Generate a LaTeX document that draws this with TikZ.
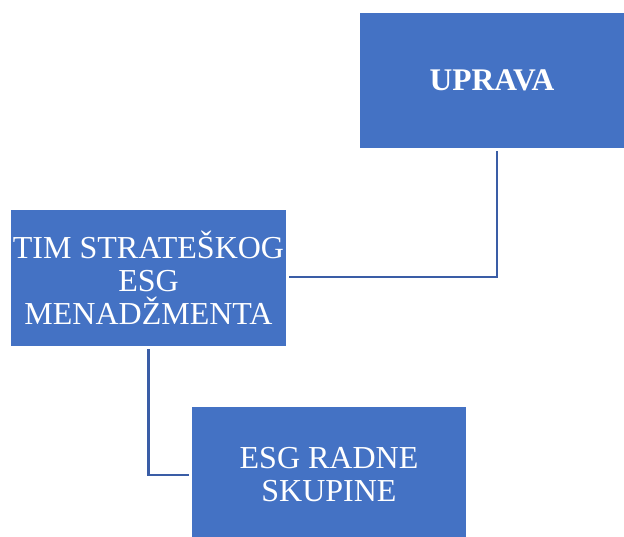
\documentclass[tikz,border=0pt]{standalone}
\usepackage{fontspec}
\setmainfont{Liberation Serif}
\definecolor{boxblue}{HTML}{4472C4}
\definecolor{lineblue}{HTML}{3A5DA6}
\begin{document}
\begin{tikzpicture}[x=1pt,y=1pt,
  orgbox/.style={rectangle, fill=boxblue, draw=none, text=white, align=center,
    inner sep=0pt, font=\fontsize{32}{33}\selectfont},
  conn/.style={draw=lineblue, line width=2.2pt, shorten <=3pt, shorten >=3pt}]
\useasboundingbox (0,0) rectangle (624,-536);
\node[orgbox, minimum width=264, minimum height=135, font=\fontsize{31.5}{33}\selectfont\bfseries] (U) at (492,-80.5) {UPRAVA};
\node[orgbox, minimum width=275, minimum height=136] (T) at (148.5,-278) {TIM STRATEŠKOG\\ESG\\MENADŽMENTA};
\node[orgbox, minimum width=274, minimum height=136] (R) at (329,-475) {ESG RADNE\\SKUPINE};
\draw[conn] ([xshift=5pt]U.south) |- ([yshift=1pt]T.east);
\draw[conn] (T.south) |- (R.west);
\end{tikzpicture}
\end{document}
